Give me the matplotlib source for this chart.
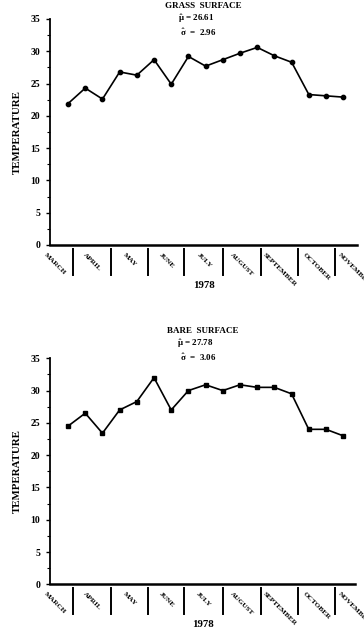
import matplotlib
matplotlib.use("Agg")
import matplotlib.pyplot as plt
from matplotlib.ticker import MultipleLocator
import matplotlib.transforms as mtransforms

plt.rcParams['font.family'] = ['Liberation Serif', 'DejaVu Serif']
plt.rcParams['font.weight'] = 'bold'
plt.rcParams['mathtext.fontset'] = 'custom'
plt.rcParams['mathtext.rm'] = 'Liberation Serif:bold'
plt.rcParams['mathtext.it'] = 'Liberation Serif:bold'
plt.rcParams['mathtext.bf'] = 'Liberation Serif:bold'

# ---- data ----
months = ["MARCH", "APRIL", "MAY", "JUNE", "JULY", "AUGUST",
          "SEPTEMBER", "OCTOBER", "NOVEMBER"]
sample_idx = list(range(17))
grass = [21.9, 24.3, 22.6, 26.8, 26.3, 28.7, 24.9, 29.2, 27.7,
         28.7, 29.7, 30.6, 29.3, 28.3, 23.3, 23.1, 22.9]
bare = [24.5, 26.5, 23.4, 27.0, 28.3, 32.0, 27.0, 30.0, 30.9,
        30.0, 30.9, 30.5, 30.5, 29.5, 24.0, 24.0, 23.0]
grass_mu, grass_sd = "26.61", "2.96"
bare_mu, bare_sd = "27.78", "3.06"
year = "1978"
# month boundaries in sample-index units
month_edges = [-1.87, 0.3, 2.48, 4.67, 6.76, 9.03, 11.2, 13.35, 15.52, 17.7]
yticks = [0, 5, 10, 15, 20, 25, 30, 35]

W, H = 364, 630
fig = plt.figure(figsize=(W / 100, H / 100), dpi=100)


def make_axes(left_px, right_px, top_px, bottom_px):
    return fig.add_axes([left_px / W, 1 - bottom_px / H,
                         (right_px - left_px) / W, (bottom_px - top_px) / H])


def draw(ax, vals, marker, ms, title, mu, sd, ty, my, sy, xmax):
    ax.plot(sample_idx, vals, color='black', lw=1.2, marker=marker,
            ms=ms, mfc='black', mec='black', clip_on=False)
    ax.set_xlim(-1.05, xmax)
    ax.set_ylim(0, 35)
    for s in ['top', 'right']:
        ax.spines[s].set_visible(False)
    ax.spines['left'].set_linewidth(1.3)
    ax.spines['bottom'].set_linewidth(1.8)
    ax.set_yticks(yticks)
    ax.yaxis.set_minor_locator(MultipleLocator(2.5))
    ax.tick_params(axis='y', which='major', length=3, width=1, pad=4,
                   labelsize=7)
    ax.tick_params(axis='y', which='minor', length=2, width=0.8)
    ax.set_xticks([])
    trans = mtransforms.blended_transform_factory(ax.transData, ax.transAxes)
    for e in month_edges[1:-1]:
        ax.plot([e, e], [-0.018, -0.133], color='black', lw=1.4,
                transform=trans, clip_on=False)
    for i, m in enumerate(months):
        c = (month_edges[i] + month_edges[i + 1]) / 2
        ax.text(c, -0.03, m, transform=trans, rotation=-45, ha='center',
                va='top', fontsize=5.2, fontweight='bold', clip_on=False)
    ax.text(0.5, -0.18, year, transform=ax.transAxes, ha='center',
            va='center', fontsize=7.8, fontweight='bold')
    ax.text(-0.107, 0.5, "TEMPERATURE", transform=ax.transAxes,
            rotation=90, ha='center', va='center', fontsize=7.8,
            fontweight='bold')
    ax.text(0.5, ty, title, transform=ax.transAxes, ha='center',
            va='center', fontsize=6.5, fontweight='bold')
    ax.text(0.417, my, r"$\hat{\mu}$ = " + mu, transform=ax.transAxes,
            ha='left', va='center', fontsize=6.5, fontweight='bold')
    ax.text(0.425, sy, r"$\hat{\sigma}$  =  " + sd, transform=ax.transAxes,
            ha='left', va='center', fontsize=6.5, fontweight='bold')


ax1 = make_axes(50, 357, 19, 245)
draw(ax1, grass, 'o', 3.1, "GRASS  SURFACE", grass_mu, grass_sd,
     1.059, 1.0, 0.942, 16.8)

ax2 = make_axes(50, 355, 358.3, 584.3)
draw(ax2, bare, 's', 3.0, "BARE  SURFACE", bare_mu, bare_sd,
     1.121, 1.065, 1.006, 16.69)

fig.savefig("out.png", dpi=100)
